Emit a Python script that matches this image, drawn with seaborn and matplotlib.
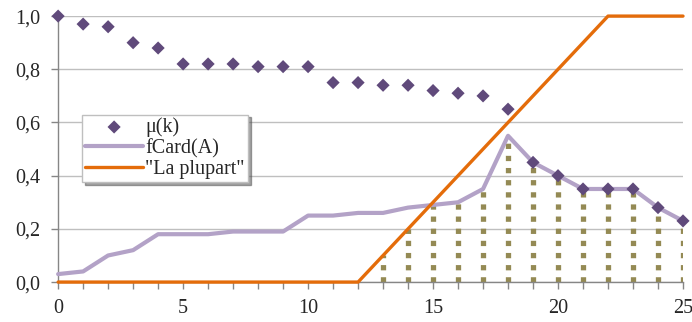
import numpy as np
import pandas as pd
import matplotlib
matplotlib.use("Agg")
import matplotlib.pyplot as plt
import seaborn as sns

# Données
k = list(range(26))
mu = [1.0, 0.97, 0.96, 0.90, 0.88, 0.82, 0.82, 0.82, 0.81, 0.81, 0.81, 0.75, 0.75,
      0.74, 0.74, 0.72, 0.71, 0.70, 0.65, 0.45, 0.40, 0.35, 0.35, 0.35, 0.28, 0.23]
fcard = [0.03, 0.04, 0.10, 0.12, 0.18, 0.18, 0.18, 0.19, 0.19, 0.19, 0.25, 0.25, 0.26,
         0.26, 0.28, 0.29, 0.30, 0.35, 0.55, 0.45, 0.40, 0.35, 0.35, 0.35, 0.28, 0.23]
plupart = [0, 0, 0, 0, 0, 0, 0, 0, 0, 0, 0, 0, 0,
           0.1, 0.2, 0.3, 0.4, 0.5, 0.6, 0.7, 0.8, 0.9, 1.0, 1.0, 1.0, 1.0]
x_ticks = [0, 5, 10, 15, 20, 25]
y_ticks = [0.0, 0.2, 0.4, 0.6, 0.8, 1.0]

df = pd.DataFrame({"k": k, "mu": mu, "fcard": fcard, "plupart": plupart})
# hauteur des pointillés : min(fCard, "La plupart")
df["dots"] = np.minimum(df["fcard"], df["plupart"])

sns.set_style("white")
plt.rcParams["font.family"] = ["Liberation Serif", "DejaVu Serif"]

fig, ax = plt.subplots(figsize=(6.92, 3.22), dpi=100)
fig.subplots_adjust(left=0.084, right=0.987, top=0.95, bottom=0.124)

ax.grid(axis="y", color="#BFBFBF", linewidth=1)
ax.set_axisbelow(True)

d = df[df["dots"] > 0]
vl = ax.vlines(d["k"], 0, d["dots"], colors="#948A54", linewidth=3.8,
               linestyles=[(0, (1, 1.3))], zorder=2)
vl.set_capstyle("butt")

sns.lineplot(data=df, x="k", y="fcard", ax=ax, color="#B3A2C7", linewidth=3,
             label="fCard(A)", zorder=3, clip_on=False)
sns.lineplot(data=df, x="k", y="plupart", ax=ax, color="#E46C0A", linewidth=2.4,
             label="\"La plupart\"", zorder=4, clip_on=False)
sns.scatterplot(data=df, x="k", y="mu", ax=ax, color="#604A7B", marker="D", s=45,
                edgecolor="none", label="\u03bc(k)", zorder=5, clip_on=False)

ax.set_xlim(0, 25)
ax.set_ylim(0, 1.0)
ax.set_xticks(x_ticks)
ax.set_xticks(k, minor=True)
ax.set_yticks(y_ticks)
ax.set_xticklabels([str(t) for t in x_ticks], fontsize=14.5)
ax.set_yticklabels([f"{t:.1f}".replace(".", ",") for t in y_ticks], fontsize=14.5)
ax.tick_params(axis="x", which="both", direction="out", length=5, color="#868686",
               bottom=True, width=1, pad=7)
ax.tick_params(axis="y", length=5, color="#868686", left=True, width=1, pad=8)
ax.set_xlabel("")
ax.set_ylabel("")
for s in ["top", "right"]:
    ax.spines[s].set_visible(False)
for s in ["left", "bottom"]:
    ax.spines[s].set_color("#868686")
    ax.spines[s].set_linewidth(1)

h, l = ax.get_legend_handles_labels()
order = [2, 0, 1]
leg = ax.legend([h[i] for i in order], [l[i] for i in order],
                loc="upper left", bbox_to_anchor=(0.038, 0.63), fontsize=14.5,
                frameon=True, fancybox=False, shadow=True, edgecolor="#BFBFBF",
                handlelength=2.9, handletextpad=0.1, labelspacing=0.08,
                borderpad=0.15, borderaxespad=0)
leg.get_frame().set_linewidth(1)

fig.savefig("out.png", dpi=100)
